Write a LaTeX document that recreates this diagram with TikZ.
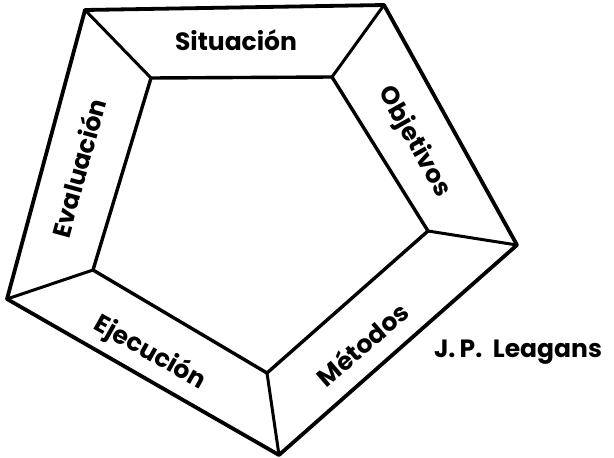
\documentclass[tikz,border=0pt]{standalone}
\usepackage{fontspec}
\setmainfont{Poppins}
\usetikzlibrary{calc}

\begin{document}
\begin{tikzpicture}[
  x=1pt, y=-1pt,
  frame/.style ={draw=black, line width=3.8pt, line join=round, line cap=round},
  rim/.style   ={draw=black, line width=3.4pt, line join=round, line cap=round},
  spoke/.style ={draw=black, line width=3pt, line cap=round},
  stage/.style ={font=\fontsize{25}{30}\selectfont\bfseries, inner sep=1pt},
  author/.style={font=\fontsize{25}{30}\selectfont\bfseries, inner sep=1pt, anchor=center},
]
\useasboundingbox (0,0) rectangle (614,458);

% ==================== Corners ====================
% outer pentagon
\coordinate (oTL) at (85,10);
\coordinate (oTR) at (384,5);
\coordinate (oR)  at (517,245);
\coordinate (oB)  at (279,455);
\coordinate (oL)  at (7,299);
% inner pentagon
\coordinate (iTL) at (151,78);
\coordinate (iTR) at (332,77);
\coordinate (iR)  at (428,231);
\coordinate (iB)  at (267,373);
\coordinate (iL)  at (93,270);

% ==================== Frame ====================
\draw[frame] (oTL) -- (oTR) -- (oR) -- (oB) -- (oL) -- cycle;
\draw[rim]   (iTL) -- (iTR) -- (iR) -- (iB) -- (iL) -- cycle;
\foreach \c in {TL,TR,R,B,L}
  \draw[spoke] (o\c) -- (i\c);

% ==================== Stage labels ====================
\node[stage]               (sit) at (236,40)  {Situación};
\node[stage, rotate=-60.6] (obj) at (414,142) {Objetivos};
\node[stage, rotate=40.8]  (met) at (362,344) {Métodos};
\node[stage, rotate=-29.3] (eje) at (150,353) {Ejecución};
\node[stage, rotate=74.9]  (eva) at (78,168)  {Evaluación};

% ==================== Author ====================
\node[author] (lea) at (518,352) {J.\,P.\ \ Leagans};

\end{tikzpicture}
\end{document}
